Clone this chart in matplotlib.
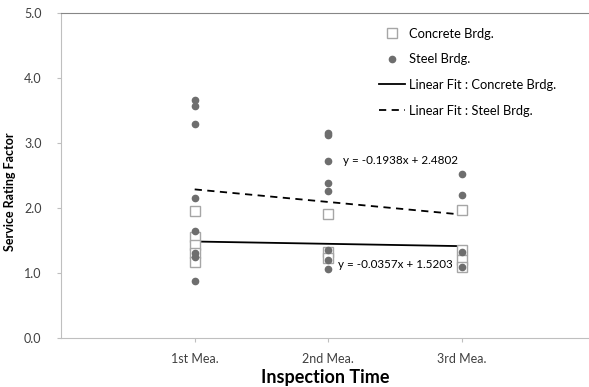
import matplotlib.pyplot as plt
import numpy as np

plt.rcParams['font.family'] = ['Lato', 'DejaVu Sans']

# data
x_labels = ['1st Mea.', '2nd Mea.', '3rd Mea.']

concrete_x = [1, 1, 1, 1, 1, 2, 2, 2, 3, 3, 3, 3]
concrete_y = [1.96, 1.56, 1.43, 1.31, 1.17, 1.91, 1.33, 1.23, 1.97, 1.35, 1.20, 1.10]

steel_x = [1, 1, 1, 1, 1, 1, 1, 1, 2, 2, 2, 2, 2, 2, 2, 2, 3, 3, 3, 3]
steel_y = [3.66, 3.57, 3.29, 2.16, 1.64, 1.31, 1.25, 0.88,
           3.15, 3.12, 2.73, 2.39, 2.26, 1.35, 1.20, 1.06,
           2.52, 2.20, 1.33, 1.10]

fit_concrete = (-0.0357, 1.5203)
fit_steel = (-0.1938, 2.4802)

fig = plt.figure(figsize=(5.89, 3.87), dpi=100)
ax = fig.add_axes([0.1036, 0.1266, 0.8964, 0.8398])

ax.plot(concrete_x, concrete_y, 's', ms=7, mfc='white', mec='#a6a6a6', mew=1.0,
        ls='none', label='Concrete Brdg.', zorder=3)
ax.plot(steel_x, steel_y, 'o', ms=4.5, color='#6e6e6e', ls='none',
        label='Steel Brdg.', zorder=4)

xf = np.array([1, 3])
ax.plot(xf, fit_concrete[0] * xf + fit_concrete[1], color='black', lw=1.3,
        label='Linear Fit : Concrete Brdg.')
ax.plot(xf, fit_steel[0] * xf + fit_steel[1], color='black', lw=1.3, ls=(0, (4, 3)),
        label='Linear Fit : Steel Brdg.')

ax.text(2.11, 2.73, 'y = -0.1938x + 2.4802', fontsize=8.4, va='center')
ax.text(2.07, 1.13, 'y = -0.0357x + 1.5203', fontsize=8.4, va='center')

ax.set_xlim(0, 3.95)
ax.set_ylim(0, 5)
ax.set_xticks([1, 2, 3])
ax.set_xticklabels(x_labels)
ax.set_yticks(np.arange(0, 5.1, 1.0))
ax.set_yticklabels([f'{v:.1f}' for v in np.arange(0, 5.1, 1.0)])
ax.tick_params(labelsize=9, colors='#404040', length=3, width=0.8, pad=8)
ax.tick_params(axis='y', pad=11)
ax.tick_params(axis='both', color='#bfbfbf')

ax.spines['right'].set_visible(False)
ax.spines['top'].set_color('#868686')
ax.spines['left'].set_color('#bfbfbf')
ax.spines['bottom'].set_color('#bfbfbf')

ax.set_ylabel('Service Rating Factor', fontsize=9, fontweight='bold')
ax.set_xlabel('Inspection Time', fontsize=13, fontweight='bold', labelpad=3)
ax.yaxis.set_label_coords(-0.085, 0.45)

ax.legend(loc='upper left', bbox_to_anchor=(0.58, 0.99), frameon=False,
          fontsize=9.3, handlelength=2.0, labelspacing=1.05, handletextpad=0.3)

fig.savefig('out.png', dpi=100)
